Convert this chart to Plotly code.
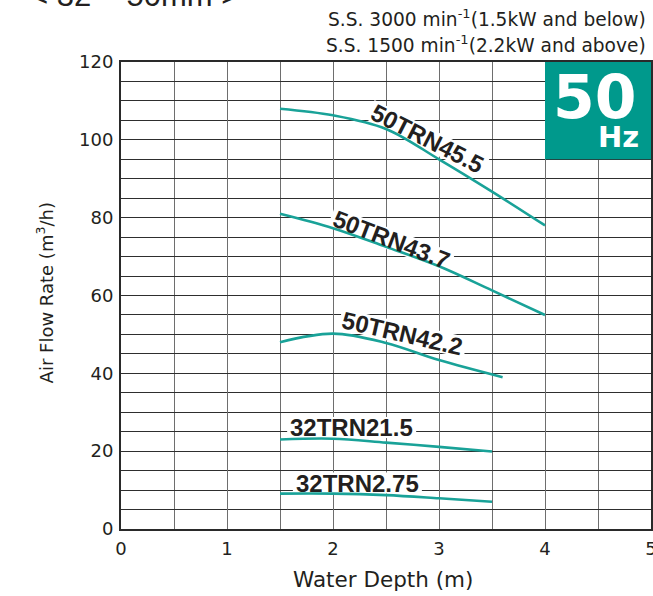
import math
import plotly.graph_objects as go

# ---- data ----
depth_50trn45_5 = [1.5, 2.0, 2.5, 3.0, 3.5, 4.0]
flow_50trn45_5 = [108.0, 106.3, 102.8, 95.0, 86.7, 78.0]

depth_50trn43_7 = [1.5, 2.0, 2.5, 3.0, 3.5, 4.0]
flow_50trn43_7 = [81.0, 77.3, 72.5, 67.5, 61.3, 55.0]

depth_50trn42_2 = [1.5, 2.0, 2.5, 3.0, 3.6]
flow_50trn42_2 = [48.0, 50.2, 47.8, 43.4, 39.0]

depth_32trn21_5 = [1.5, 2.0, 2.5, 3.0, 3.5]
flow_32trn21_5 = [23.0, 23.2, 22.2, 21.1, 19.9]

depth_32trn2_75 = [1.5, 2.0, 2.5, 3.0, 3.5]
flow_32trn2_75 = [9.1, 9.1, 8.7, 7.9, 7.0]

series_names = ["50TRN45.5", "50TRN43.7", "50TRN42.2", "32TRN21.5", "32TRN2.75"]
series_x = [depth_50trn45_5, depth_50trn43_7, depth_50trn42_2, depth_32trn21_5, depth_32trn2_75]
series_y = [flow_50trn45_5, flow_50trn43_7, flow_50trn42_2, flow_32trn21_5, flow_32trn2_75]

# label anchor positions (data coords) and angles
label_x = [2.89, 2.55, 2.66, 2.176, 2.23]
label_y = [100.3, 74.3, 50.3, 26.1, 11.8]
label_angle = [27, 21, 13, 0, 0]

x_ticks = [0, 1, 2, 3, 4, 5]
y_ticks = [0, 20, 40, 60, 80, 100, 120]

TEAL_LINE = "#19a298"
TEAL_BOX = "#00998c"
TXT = "#231f20"
FONT = "DejaVu Sans"
BOLD = "Liberation Sans"

# plot geometry (px) used to size the white knock-out boxes behind labels
W_FIG, H_FIG = 653, 596
M_L, M_R, M_T, M_B = 121, 2, 62, 67
X_RANGE, Y_RANGE = (0, 5), (0, 120)
PX_X = (W_FIG - M_L - M_R) / (X_RANGE[1] - X_RANGE[0])
PX_Y = (H_FIG - M_T - M_B) / (Y_RANGE[1] - Y_RANGE[0])
KO_W, KO_H = 129, 21

fig = go.Figure()
for nm, xs, ys in zip(series_names, series_x, series_y):
    fig.add_trace(go.Scatter(
        x=xs, y=ys, mode="lines", name=nm,
        line=dict(color=TEAL_LINE, width=2.6, shape="spline", smoothing=1.0),
        showlegend=False, hoverinfo="skip",
    ))

# white knock-out boxes (between gridlines and curves), rotated with the label
for lx, ly, ang in zip(label_x, label_y, label_angle):
    t = math.radians(ang)
    pts = []
    for sx, sy in [(-1, -1), (1, -1), (1, 1), (-1, 1)]:
        ux, uy = sx * KO_W / 2, sy * KO_H / 2
        dx = ux * math.cos(t) - uy * math.sin(t)
        dy = ux * math.sin(t) + uy * math.cos(t)
        pts.append((lx + dx / PX_X, ly - dy / PX_Y))
    path = "M " + " L ".join("%.4f,%.4f" % p for p in pts) + " Z"
    fig.add_shape(type="path", xref="x", yref="y", path=path,
                  fillcolor="white", line=dict(width=0), layer="between")

for nm, lx, ly, ang in zip(series_names, label_x, label_y, label_angle):
    fig.add_annotation(
        x=lx, y=ly, xref="x", yref="y", text="<b>%s</b>" % nm,
        showarrow=False, textangle=ang,
        font=dict(family=BOLD, size=24, color=TXT),
        xanchor="center", yanchor="middle",
    )

# 50 Hz badge
fig.add_shape(type="rect", xref="x", yref="y", x0=4, x1=5, y0=95, y1=120,
              fillcolor=TEAL_BOX, line=dict(width=0), layer="above")
fig.add_annotation(x=4.47, y=111.0, xref="x", yref="y", text="<b>50</b>",
                   showarrow=False, font=dict(family="DejaVu Sans", size=60, color="white"),
                   xanchor="center", yanchor="middle")
fig.add_annotation(x=4.69, y=100.8, xref="x", yref="y", text="<b>Hz</b>",
                   showarrow=False, font=dict(family="DejaVu Sans", size=29, color="white"),
                   xanchor="center", yanchor="middle")

# axis titles as annotations
fig.add_annotation(x=0.494, y=-0.109, xref="paper", yref="paper", text="Water Depth (m)",
                   showarrow=False, font=dict(family=FONT, size=21.5, color=TXT),
                   xanchor="center", yanchor="middle")
fig.add_annotation(x=-0.143, y=0.505, xref="paper", yref="paper",
                   text="Air Flow Rate (m<sup>3</sup>/h)", textangle=-90,
                   showarrow=False, font=dict(family=FONT, size=18, color=TXT),
                   xanchor="center", yanchor="middle")

# header texts
fig.add_annotation(x=0.9943, y=1.094, xref="paper", yref="paper",
                   text="S.S. 3000 min<sup>-1</sup>(1.5kW and below)",
                   showarrow=False, font=dict(family=FONT, size=18.6, color=TXT),
                   xanchor="right", yanchor="middle")
fig.add_annotation(x=0.9943, y=1.0385, xref="paper", yref="paper",
                   text="S.S. 1500 min<sup>-1</sup>(2.2kW and above)",
                   showarrow=False, font=dict(family=FONT, size=18.6, color=TXT),
                   xanchor="right", yanchor="middle")
fig.add_annotation(x=-0.1755, y=1.1425, xref="paper", yref="paper",
                   text="< 32 ~ 50mm >",
                   showarrow=False, font=dict(family="Liberation Sans", size=31, color=TXT),
                   xanchor="left", yanchor="middle")

fig.update_xaxes(
    range=list(X_RANGE), tickvals=x_ticks, ticktext=[str(v) for v in x_ticks],
    showgrid=True, gridcolor="#6e6e6e", gridwidth=1.3,
    minor=dict(dtick=0.5, showgrid=True, gridcolor="#6e6e6e", gridwidth=1.3),
    showline=True, linecolor="#2a2a2a", linewidth=2, mirror=True,
    zeroline=False, ticks="", ticklabelstandoff=2, ticklabeloverflow="allow",
    tickfont=dict(family=FONT, size=18, color=TXT),
)
fig.update_yaxes(
    range=list(Y_RANGE), tickvals=y_ticks, ticktext=[str(v) for v in y_ticks],
    showgrid=True, gridcolor="#2e2e2e", gridwidth=1.3,
    minor=dict(dtick=5, showgrid=True, gridcolor="#2e2e2e", gridwidth=1.3),
    showline=True, linecolor="#2a2a2a", linewidth=2, mirror=True,
    zeroline=False, ticks="", ticklabelstandoff=2, ticklabeloverflow="allow",
    tickfont=dict(family=FONT, size=18, color=TXT),
)

fig.update_layout(
    width=W_FIG, height=H_FIG,
    margin=dict(l=M_L, r=M_R, t=M_T, b=M_B, autoexpand=False),
    plot_bgcolor="white", paper_bgcolor="white",
    showlegend=False,
)

fig.write_html("out.html", config={"displayModeBar": False},
               post_script="document.body.style.margin='0';")
